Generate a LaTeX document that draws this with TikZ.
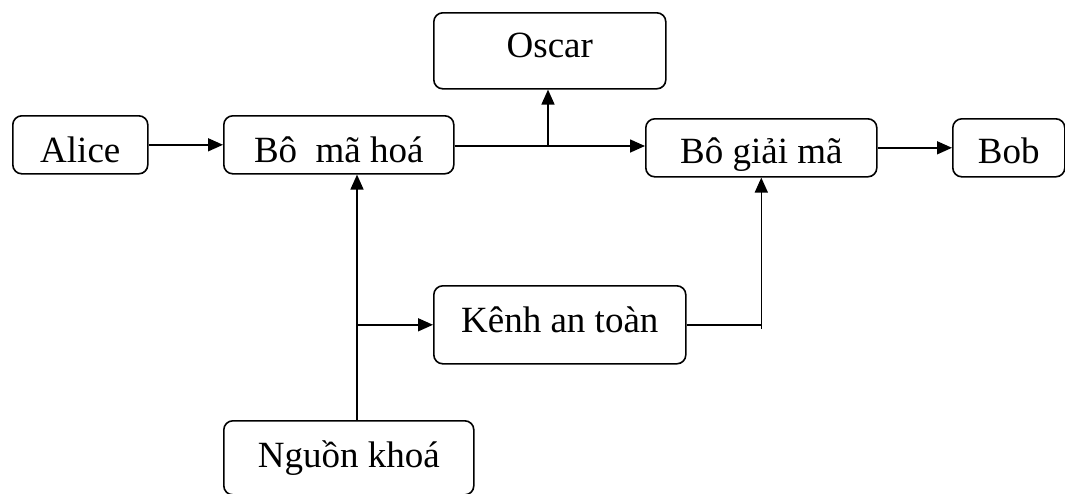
\documentclass[tikz,border=0pt]{standalone}
\usepackage{fontspec}
\setmainfont{Liberation Serif}
\usetikzlibrary{arrows.meta}

\begin{document}
\begin{tikzpicture}[x=1pt,y=-1pt,
  box/.style={draw, line width=1.6pt, rounded corners=9pt, inner sep=0pt,
    anchor=north west, font=\fontsize{37}{40}\selectfont},
  arr/.style={line width=1.6pt, -{Triangle[length=15pt,width=13pt]}},
  wire/.style={line width=1.6pt}]
\useasboundingbox (0,0) rectangle (1065,493);

% Boxes
\node[box, minimum width=135pt, text height=47pt, text depth=11pt] (alice) at (12,115) {Alice};
\node[box, minimum width=230pt, text height=47pt, text depth=11pt] (mahoa) at (223,115) {Bô\ \ mã hoá};
\node[box, minimum width=232pt, text height=45pt, text depth=31pt] (oscar) at (433,12) {Oscar};
\node[box, minimum width=231pt, text height=45pt, text depth=13pt] (giaima) at (645,118) {Bô giải mã};
\node[box, minimum width=112pt, text height=45pt, text depth=13pt] (bob) at (952,118) {Bob};
\node[box, minimum width=252pt, text height=47pt, text depth=31pt] (kenh) at (433,285) {Kênh an toàn};
\node[box, minimum width=250pt, text height=47pt, text depth=27pt] (nguon) at (223,420) {Nguồn khoá};

% Coordinates for the branches
\coordinate (kx) at (357,0);
\coordinate (ox) at (548,146);

% Main line
\draw[arr] (alice.east) -- (mahoa.west);
\draw[arr] (mahoa.east |- ox) -- (giaima.west |- ox);
\draw[arr] (ox) -- (oscar.south -| ox);
\draw[arr] (giaima.east) -- (bob.west);

% Key source
\draw[arr] (nguon.north -| kx) -- (mahoa.south -| kx);
\draw[arr] (kenh.west -| kx) -- (kenh.west);
\draw[wire] (kenh.east) -- (kenh.east -| giaima.south);
\draw[arr] ([yshift=-4pt]kenh.east -| giaima.south) -- (giaima.south);
\end{tikzpicture}
\end{document}
